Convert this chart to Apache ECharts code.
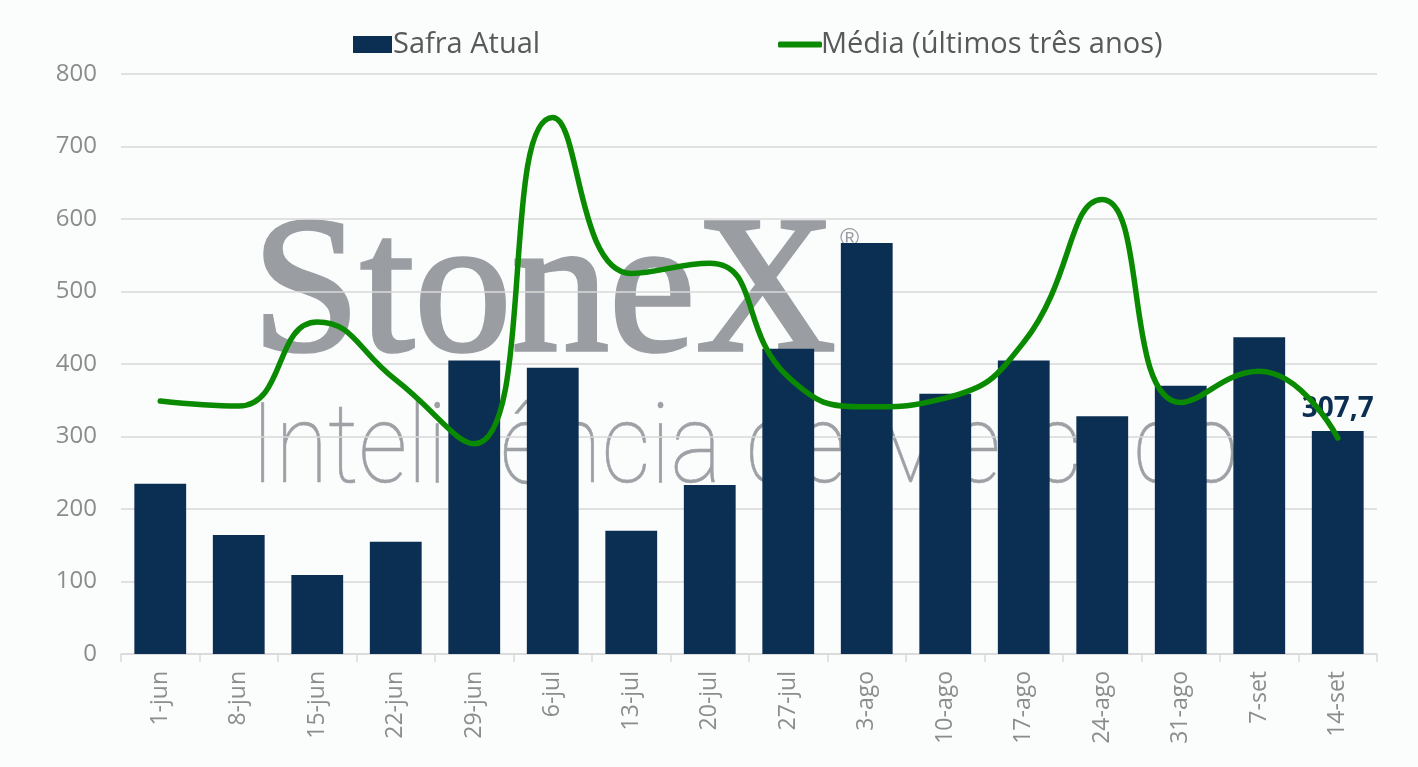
<!DOCTYPE html>
<html>
<head>
<meta charset="utf-8">
<script src="https://cdn.jsdelivr.net/npm/echarts@6/dist/echarts.min.js"></script>
<style>
html,body{margin:0;padding:0;background:#fbfcfc;}
#chart{width:1418px;height:767px;}
</style>
</head>
<body>
<div id="chart"></div>
<script>
const categories = ['1-jun','8-jun','15-jun','22-jun','29-jun','6-jul','13-jul','20-jul','27-jul','3-ago','10-ago','17-ago','24-ago','31-ago','7-set','14-set'];
const safraAtual = [235,164,109,155,405,395,170,233,421,567,359,405,328,370,437,307.7];
const mediaTresAnos = [349,342,458,378,290,740,525,539,382,341,353,430,627,347,390,298];
const yTicks = [0,100,200,300,400,500,600,700,800];

const FONT = '"Open Sans", "Noto Sans", sans-serif';
const lastIdx = safraAtual.length - 1;
const barData = safraAtual.map((v, i) => i === lastIdx ? {
  value: v,
  label: {
    show: true, position: 'top', distance: 8,
    formatter: p => String(p.value).replace('.', ','),
    color: '#0b2f52', fontSize: 28, fontWeight: 'bold', fontFamily: FONT
  }
} : v);

// fit watermark texts to their width in the reference
const cv = document.createElement('canvas').getContext('2d');
function fitScale(font, text, target) {
  cv.font = font;
  const w = cv.measureText(text).width;
  return w > 0 ? target / w : 1;
}
const fontStone = '195px "Liberation Serif", serif';
const fontIntel = '100 112px Roboto, "Open Sans", sans-serif';
const sxStone = fitScale(fontStone, 'StoneX', 584);
const sxIntel = fitScale(fontIntel, 'Inteligência de Mercado', 988);

const chart = echarts.init(document.getElementById('chart'));
chart.setOption({
  backgroundColor: '#fbfcfc',
  animation: false,
  graphic: [
    { type: 'text', z: -10, x: 252, y: 201, scaleX: sxStone,
      style: { text: 'StoneX', fill: '#9a9ea3', stroke: '#9a9ea3', lineWidth: 3.5, font: fontStone } },
    { type: 'text', z: -10, x: 840, y: 226,
      style: { text: '®', fill: '#9a9ea3', font: '26px "Liberation Sans", sans-serif' } },
    { type: 'text', z: -10, x: 250, y: 398, scaleX: sxIntel,
      style: { text: 'Inteligência de Mercado', fill: '#9da1a5', stroke: '#9da1a5', lineWidth: 0.6, font: fontIntel } }
  ],
  legend: [
    { data: ['Safra Atual'], left: 348, top: 25, icon: 'rect', itemWidth: 39, itemHeight: 17, itemGap: 5,
      textStyle: { color: '#595959', fontSize: 29, fontFamily: FONT, padding: [0,0,0,-4] } },
    { data: ['Média (últimos três anos)'], left: 773, top: 25, icon: 'roundRect', itemWidth: 44, itemHeight: 6,
      textStyle: { color: '#595959', fontSize: 29, fontFamily: FONT, padding: [0,0,0,-6] } }
  ],
  grid: { left: 121, right: 41, top: 74, bottom: 113 },
  xAxis: {
    type: 'category', data: categories,
    axisLine: { lineStyle: { color: '#d9d9d9', width: 1.5 } },
    axisTick: { show: true, length: 8, lineStyle: { color: '#d9d9d9', width: 1.5 } },
    axisLabel: { rotate: 90, color: '#8c8c8c', fontSize: 23, fontFamily: FONT, margin: 17 }
  },
  yAxis: {
    type: 'value', min: yTicks[0], max: yTicks[yTicks.length - 1], interval: 100,
    axisLine: { show: false }, axisTick: { show: false },
    splitLine: { lineStyle: { color: '#d9d9d9', width: 1.5 } },
    axisLabel: { color: '#8c8c8c', fontSize: 24, fontFamily: FONT, margin: 24 }
  },
  series: [
    { name: 'Safra Atual', type: 'bar', data: barData, barCategoryGap: '34%',
      itemStyle: { color: '#0b2f52' } },
    { name: 'Média (últimos três anos)', type: 'line', data: mediaTresAnos, smooth: 0.5,
      symbol: 'none', lineStyle: { color: '#0a8a00', width: 5.5, cap: 'round' },
      itemStyle: { color: '#0a8a00' }, z: 5 }
  ]
});
</script>
</body>
</html>
